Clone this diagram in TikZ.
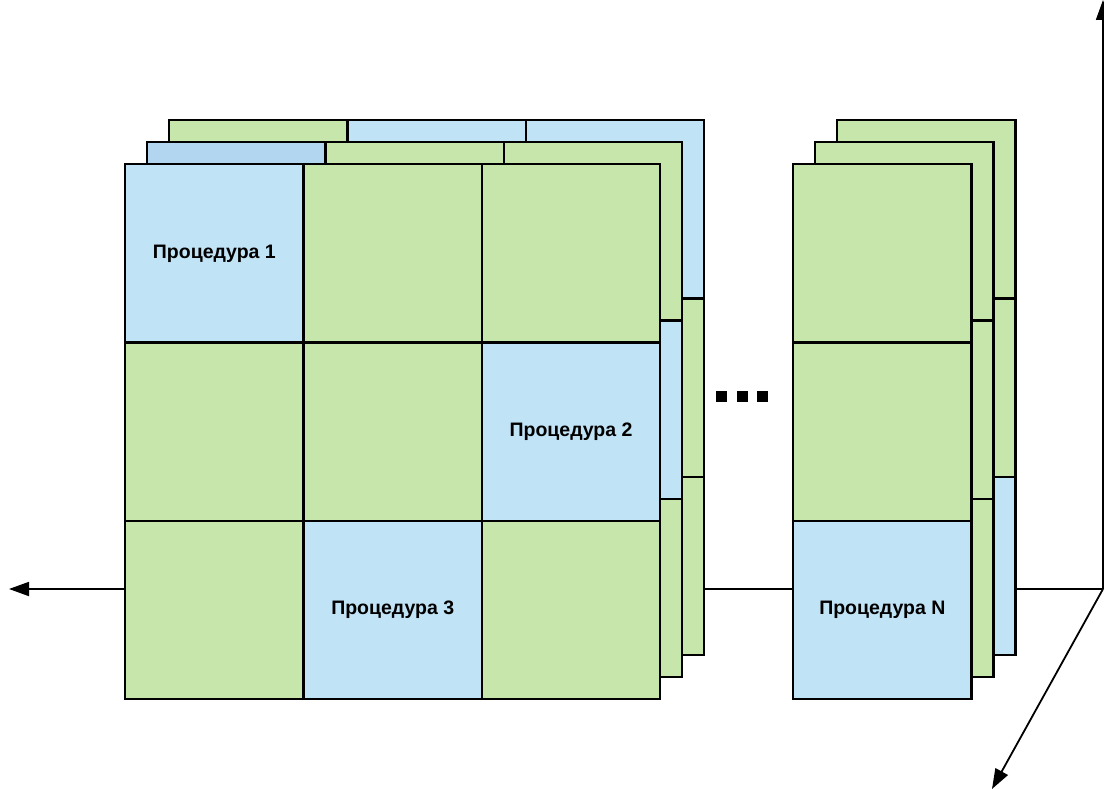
\documentclass[tikz,border=0pt]{standalone}
\usepackage{fontspec}
\setmainfont{Liberation Sans}
\usetikzlibrary{arrows.meta}
\definecolor{cgreen}{RGB}{198,230,172}
\definecolor{cblue}{RGB}{193,227,246}
\definecolor{cblued}{RGB}{178,214,240}
\begin{document}
\begin{tikzpicture}[x=1pt,y=-1pt,
  cell/.style={draw=black, line width=2.4pt, minimum width=178.33pt, minimum height=178.33pt,
    inner sep=0pt, anchor=north west},
  g/.style={cell, fill=cgreen},
  b/.style={cell, fill=cblue},
  d/.style={cell, fill=cblued},
  lbl/.style={font=\bfseries\fontsize{19.5}{22}\selectfont},
  axis/.style={line width=1.8pt, -{Triangle[length=20pt,width=14pt]}},
  dot/.style={fill=black, minimum size=11pt, inner sep=0pt}]
\useasboundingbox (0,0) rectangle (1104,789);

% axes
\coordinate (o) at (1103,589);
\coordinate (xe) at (9,589);
\coordinate (ye) at (1103,0);
\coordinate (ze) at (992,789);
\draw[axis] (o) -- (xe);

% back layer of the grid
\foreach \c [count=\i from 0] in {g,b,b,g,g,g,g,g,g} {
  \pgfmathtruncatemacro{\r}{int(\i/3)}
  \pgfmathtruncatemacro{\k}{mod(\i,3)}
  \node[\c] (c3-\i) at (168+178.33*\k, 119+178.33*\r) {};
}
% middle layer
\foreach \c [count=\i from 0] in {d,g,g,g,g,b,g,g,g} {
  \pgfmathtruncatemacro{\r}{int(\i/3)}
  \pgfmathtruncatemacro{\k}{mod(\i,3)}
  \node[\c] (c2-\i) at (146+178.33*\k, 141+178.33*\r) {};
}
% front layer
\foreach \c [count=\i from 0] in {b,g,g,g,g,b,g,b,g} {
  \pgfmathtruncatemacro{\r}{int(\i/3)}
  \pgfmathtruncatemacro{\k}{mod(\i,3)}
  \node[\c] (c1-\i) at (124+178.33*\k, 163+178.33*\r) {};
}
\node[lbl] (l1) at (c1-0) {Процедура 1};
\node[lbl] (l2) at (c1-5) {Процедура 2};
\node[lbl] (l3) at (c1-7) {Процедура 3};

% last column
\foreach \c [count=\i from 0] in {g,g,b} {
  \node[\c] (n3-\i) at (836, 119+178.33*\i) {};
}
\foreach \c [count=\i from 0] in {g,g,g} {
  \node[\c] (n2-\i) at (814, 141+178.33*\i) {};
}
\foreach \c [count=\i from 0] in {g,g,b} {
  \node[\c] (n1-\i) at (792, 163+178.33*\i) {};
}
\node[lbl] (ln) at (n1-2) {Процедура N};

% ellipsis
\node[dot] (d1) at (721.5,396.5) {};
\node[dot] (d2) at (742,396.5) {};
\node[dot] (d3) at (762.5,396.5) {};

\draw[axis] (o) -- (ye);
\draw[axis] (o) -- (ze);
\end{tikzpicture}
\end{document}
